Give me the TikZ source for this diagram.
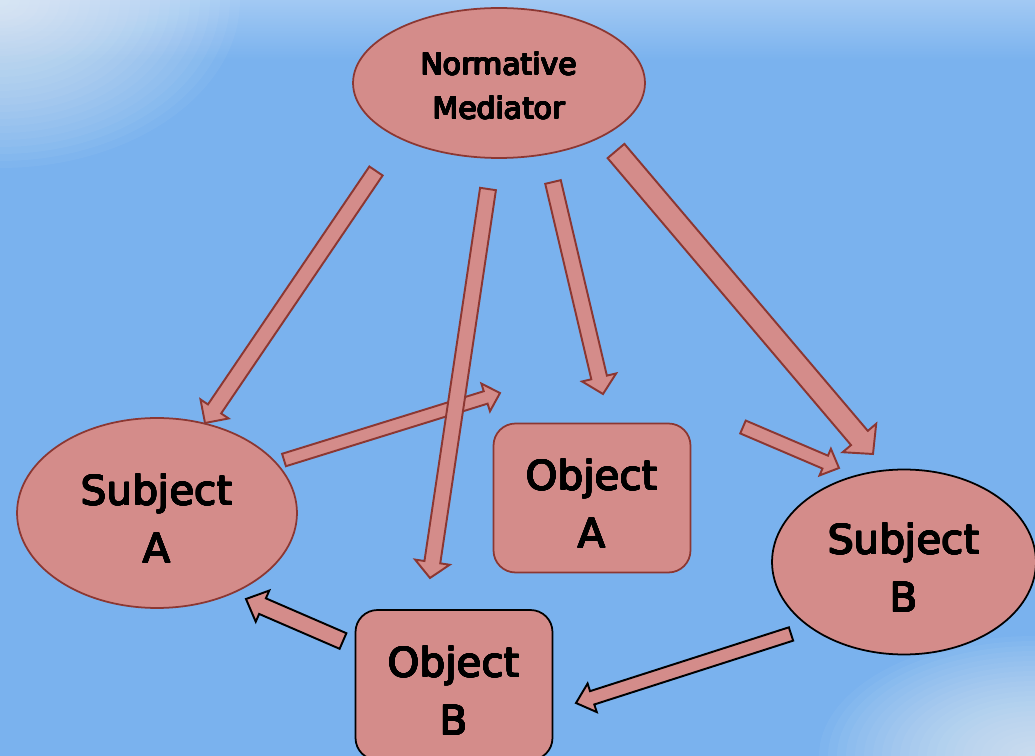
\documentclass[tikz,border=0pt]{standalone}
\usepackage{fontspec}
\setmainfont{DejaVu Sans}
\usepackage{contour}
\contourlength{0.3pt}
\usepackage{tikz}
\usetikzlibrary{shapes.geometric, calc}
\definecolor{skyblue}{HTML}{7AB2EE}
\definecolor{rosy}{HTML}{D48C8A}
\definecolor{rosyedge}{HTML}{8C3732}
\def\bigtext{\fontsize{23}{33}\selectfont}
\def\smalltext{\fontsize{17}{25}\selectfont}
\def\up{\rule{0pt}{1.05em}}
\newcommand\bt[1]{\contour{black}{#1}}
\def\fashaft{0.16cm}
\def\fahead{0.34cm}
\def\falen{0.34cm}
\tikzset{
  arr shaft/.store in=\fashaft,
  arr head/.store in=\fahead,
  arr len/.store in=\falen,
  ellip/.style={ellipse, draw=rosyedge, fill=rosy, line width=1pt, inner sep=0pt, align=center, font=\bigtext},
  objbox/.style={rectangle, rounded corners=0.44cm, draw=rosyedge, fill=rosy, line width=1pt,
    minimum width=3.94cm, minimum height=2.98cm, inner sep=0pt, align=center, font=\bigtext},
  arrowbody/.style={draw=rosyedge, fill=rosy, line width=1.1pt, line join=miter}
}
% block arrow from #2 to #3
\newcommand\fatarrow[3][]{%
  \path[#1] ($(#3)!\falen!(#2)$) coordinate (fa-h);
  \filldraw[arrowbody,#1] ($(#2)!\fashaft!90:(#3)$) -- ($(fa-h)!\fashaft!90:(#3)$)
    -- ($(fa-h)!\fahead!90:(#3)$) -- (#3) -- ($(fa-h)!\fahead!-90:(#3)$)
    -- ($(fa-h)!\fashaft!-90:(#3)$) -- ($(#2)!\fashaft!-90:(#3)$) -- cycle;}

\begin{document}
\begin{tikzpicture}[x=0.02cm, y=-0.02cm]
	\useasboundingbox (0,0) rectangle (1035,756);
	\clip (0,0) rectangle (1035,756);
	% background
	\fill[skyblue] (0,0) rectangle (1035,756);
	\shade[top color=skyblue!65!white, bottom color=skyblue] (0,-10) rectangle (1035,60);
	\foreach \i in {1,...,24}
		\fill[white, opacity=0.045] (0,0) ellipse[x radius=\i*0.2cm, y radius=\i*0.14cm];
	\foreach \i in {1,...,24}
		\fill[white, opacity=0.045] (1035,756) ellipse[x radius=\i*0.18cm, y radius=\i*0.1cm];

	\node[ellip, minimum width=5.84cm, minimum height=3cm, font=\smalltext] (med) at (499,83) {\rule{0pt}{0.95em}\bt{Normative}\\\bt{Mediator}};
	\node[ellip, minimum width=5.6cm, minimum height=3.8cm] (subA) at (157,513) {\up\bt{Subject}\\\bt{A}};
	\node[ellip, draw=black, minimum width=5.28cm, minimum height=3.7cm] (subB) at (904,562) {\up\bt{Subject}\\\bt{B}};
	\node[objbox] (objA) at (592,498) {\up\bt{Object}\\\bt{A}};
	\node[objbox, draw=black, minimum height=3cm] (objB) at (454,685) {\up\bt{Object}\\\bt{B}};

	% arrow ends
	\coordinate (t1) at (376,171);  \coordinate (h1) at (205,423);
	\coordinate (t2) at (488,189);  \coordinate (h2) at (430,578);
	\coordinate (t3) at (553,182);  \coordinate (h3) at (603,394);
	\coordinate (t4) at (616,151);  \coordinate (h4) at (873,454);
	\coordinate (t5) at (284,460);  \coordinate (h5) at (500,393);
	\coordinate (t6) at (743,427);  \coordinate (h6) at (839,468);
	\coordinate (t7) at (343,641);  \coordinate (h7) at (246,599);
	\coordinate (t8) at (791,634);  \coordinate (h8) at (576,703);

	\fatarrow{t1}{h1}
	\fatarrow[arr shaft=0.13cm, arr head=0.29cm, arr len=0.3cm]{t5}{h5}
	\fatarrow[arr shaft=0.16cm, arr head=0.35cm, arr len=0.32cm]{t2}{h2}
	\fatarrow[arr head=0.35cm]{t3}{h3}
	\fatarrow[arr shaft=0.22cm, arr head=0.44cm, arr len=0.42cm]{t4}{h4}
	\fatarrow[arr shaft=0.14cm, arr head=0.29cm, arr len=0.3cm]{t6}{h6}
	\fatarrow[draw=black, arr shaft=0.17cm, arr head=0.34cm, arr len=0.36cm]{t7}{h7}
	\fatarrow[draw=black, arr shaft=0.14cm, arr head=0.3cm, arr len=0.34cm]{t8}{h8}
\end{tikzpicture}
\end{document}
